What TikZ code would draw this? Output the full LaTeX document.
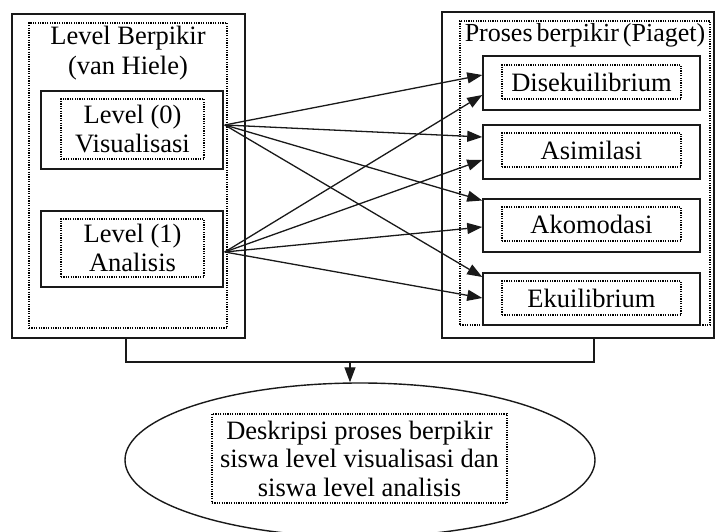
\documentclass[tikz,border=0pt]{standalone}
\usepackage{fontspec}
\setmainfont{Liberation Serif}
\usetikzlibrary{arrows.meta,shapes.geometric,calc}
\begin{document}
\begin{tikzpicture}[x=1pt,y=-1pt,
  solidbox/.style={draw=black!90,line width=1.5pt,rectangle,inner sep=0pt},
  dotbox/.style={draw=black,line width=1.2pt,dash pattern=on 1.2pt off 1.2pt,rectangle,inner sep=0pt,align=center,
     font=\fontsize{26.5}{29.5}\selectfont},
  lbl/.style={inner sep=0pt,align=center,font=\fontsize{26.5}{30}\selectfont},
  conn/.style={line width=1.3pt,draw=black!90},
  arr/.style={conn,-{Triangle[length=15pt,width=11pt]}}]
\useasboundingbox (0,0) rectangle (716,532);
% left group
\node[solidbox,minimum width=233pt,minimum height=324pt] (lout) at (128.5,176) {};
\node[dotbox,minimum width=198pt,minimum height=305pt] (ldot) at (128,175.5) {};
\node[lbl] (ltitle) at (128,53) {Level Berpikir\\(van Hiele)};
\node[solidbox,minimum width=182pt,minimum height=78pt] (l0) at (132,130) {};
\node[dotbox,minimum width=143pt,minimum height=60pt] (l0t) at (132.5,129) {Level (0)\\Visualisasi};
\node[solidbox,minimum width=182pt,minimum height=76pt] (l1) at (132,249) {};
\node[dotbox,minimum width=143pt,minimum height=58pt] (l1t) at (132.5,248) {Level (1)\\Analisis};
% right group
\node[solidbox,minimum width=272pt,minimum height=326pt] (rout) at (578,175) {};
\node[dotbox,minimum width=250pt,minimum height=304pt] (rdot) at (585,173) {};
\node[lbl,font=\fontsize{26}{30}\selectfont] (rtitle) at (585,35) {Proses\hspace{4pt}berpikir\hspace{4pt}(Piaget)};
\node[solidbox,minimum width=217pt,minimum height=54pt] (dis) at (591.5,83) {};
\node[dotbox,minimum width=179pt,minimum height=34pt] (dist) at (591.5,82) {Disekuilibrium};
\node[solidbox,minimum width=217pt,minimum height=54pt] (asi) at (591.5,152) {};
\node[dotbox,minimum width=179pt,minimum height=34pt] (asit) at (591.5,150) {Asimilasi};
\node[solidbox,minimum width=217pt,minimum height=53pt] (ako) at (591.5,225.5) {};
\node[dotbox,minimum width=179pt,minimum height=34pt] (akot) at (591.5,224) {Akomodasi};
\node[solidbox,minimum width=217pt,minimum height=52pt] (eku) at (591.5,299) {};
\node[dotbox,minimum width=179pt,minimum height=34pt] (ekut) at (591.5,298) {Ekuilibrium};
% sources
\coordinate (s0) at ($(l0.east)+(1,-5)$);
\coordinate (s1) at ($(l1.east)+(1,3)$);
% arrows from level 0
\draw[arr] (s0) -- ($(dis.west)+(0,-8)$);
\draw[arr] (s0) -- ($(asi.west)+(0,-15)$);
\draw[arr] (s0) -- ($(ako.west)+(0,-25)$);
\draw[arr] (s0) -- ($(eku.west)+(0,-22)$);
% arrows from level 1
\draw[arr] (s1) -- ($(dis.west)+(0,12)$);
\draw[arr] (s1) -- ($(asi.west)+(0,8)$);
\draw[arr] (s1) -- ($(ako.west)+(0,1.5)$);
\draw[arr] (s1) -- ($(eku.west)+(0,-1)$);
% bottom
\node[draw=black!90,line width=1.4pt,ellipse,minimum width=470pt,minimum height=154pt,inner sep=0pt] (ell) at (360,460) {};
\node[dotbox,minimum width=295pt,minimum height=89pt,font=\fontsize{26.5}{28.5}\selectfont] (ellt) at (359.5,458.5)
  {Deskripsi proses berpikir\\siswa level visualisasi dan\\siswa level analisis};
\coordinate (j) at (350,362);
\draw[conn] ($(lout.south)+(-2.5,0)$) |- (j) -| ($(rout.south)+(16,0)$);
\draw[arr] (j) -- (j |- ell.north);
\end{tikzpicture}
\end{document}
